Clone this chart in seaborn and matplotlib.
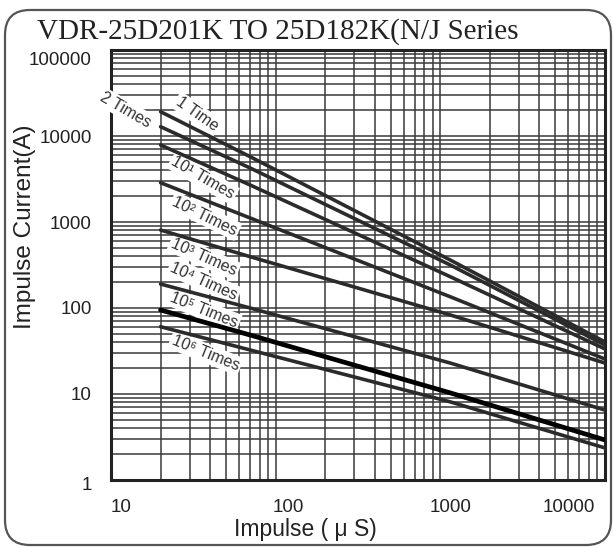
import numpy as np
import pandas as pd
import matplotlib
matplotlib.use("Agg")
import matplotlib.pyplot as plt
import matplotlib.ticker as mticker
from matplotlib.patches import FancyBboxPatch
from matplotlib.transforms import ScaledTranslation
import seaborn as sns

# impulse width (us) where the curves were read
impulse_us = [20, 70, 1150, 10000]

# impulse current (A) per repetition count
once = [19180, 5745, 361, 40.3]
twice = [12830, 4245, 316, 37.1]
times_1e1 = [7860, 2692, 231, 33.4]
times_1e2 = [2865, 1113, 135, 25.5]
times_1e3 = [807, 395, 83, 22.9]
times_1e4 = [190, 100, 22.9, 6.5]
times_1e5 = [94.8, 48.5, 10.3, 2.92]
times_1e6 = [60.6, 32.5, 8.1, 2.36]

series_names = ["1 Time", "2 Times", "10¹ Times", "10² Times",
                "10³ Times", "10⁴ Times", "10⁵ Times", "10⁶ Times"]
series_values = [once, twice, times_1e1, times_1e2,
                 times_1e3, times_1e4, times_1e5, times_1e6]

x_ticks = [10, 100, 1000, 10000]
y_ticks = [1, 10, 100, 1000, 10000, 100000]

rows = []
for name, vals in zip(series_names, series_values):
    for x, y in zip(impulse_us, vals):
        rows.append({"impulse": x, "current": y, "series": name})
df = pd.DataFrame(rows)

sns.set_style("white")
plt.rcParams['font.family'] = ['Liberation Sans', 'DejaVu Sans']

fig = plt.figure(figsize=(6.14, 5.49), dpi=100)
ax = fig.add_axes([0.1808, 0.1257, 0.8045, 0.7832])

for name in series_names:
    sub = df[df["series"] == name]
    thick = name == "10⁵ Times"
    sns.lineplot(data=sub, x="impulse", y="current", ax=ax,
                 color="black" if thick else "#2b2b2b",
                 lw=3.4 if thick else 2.6, zorder=4, legend=False)

ax.set_xscale("log")
ax.set_yscale("log")
ax.set_xlim(10, 10000)
ax.set_ylim(1, 100000)

ax.xaxis.set_major_locator(mticker.FixedLocator(x_ticks))
ax.yaxis.set_major_locator(mticker.FixedLocator(y_ticks))
ax.set_xticklabels([str(v) for v in x_ticks])
ax.set_yticklabels([str(v) for v in y_ticks])
ax.xaxis.set_minor_locator(mticker.LogLocator(base=10, subs=np.arange(2, 10)))
ax.yaxis.set_minor_locator(mticker.LogLocator(base=10, subs=np.arange(2, 10)))
ax.xaxis.set_minor_formatter(mticker.NullFormatter())
ax.yaxis.set_minor_formatter(mticker.NullFormatter())

ax.grid(True, which="both", color="#3a3a3a", lw=1.3, alpha=0.85)
ax.set_axisbelow(True)
ax.tick_params(which="both", length=0, labelsize=13.5, colors="#222222")
ax.tick_params(axis="x", pad=14)
ax.tick_params(axis="y", pad=14)
for s in ax.spines.values():
    s.set_color("#222222")
    s.set_linewidth(2.2)

# nudge tick labels like the original scan
x_shift = [10, 13, 10, -36]
for lab, dx in zip(ax.get_xticklabels(), x_shift):
    lab.set_transform(lab.get_transform() + ScaledTranslation(dx / 100, 0, fig.dpi_scale_trans))
y_shift = [-4, 0, 0, 0, 0, -8]
for lab, dy in zip(ax.get_yticklabels(), y_shift):
    lab.set_transform(lab.get_transform() + ScaledTranslation(0, dy / 100, fig.dpi_scale_trans))

ax.set_xlabel("Impulse ( μ S)", fontsize=16.5, color="#222222")
ax.set_ylabel("Impulse Current(A)", fontsize=17.5, color="#222222")
ax.xaxis.set_label_coords(0.393, -0.088)
ax.yaxis.set_label_coords(-0.152, 0.59)

# curve labels
label_spots = [(33.3, 18030, -35), (12.3, 20050, -30), (36.2, 3250, -30),
               (37.2, 1175, -26), (36.7, 392, -24), (36.7, 206, -24),
               (36.7, 94.8, -22), (37.5, 30, -22)]
for name, (lx, ly, rot) in zip(series_names, label_spots):
    ax.text(lx, ly, name, rotation=rot, ha="center", va="center",
            fontsize=11.5, color="#333333", zorder=3,
            family=['Liberation Sans', 'DejaVu Sans'],
            bbox=dict(facecolor="white", edgecolor="none", pad=1.5))

fig.text(0.06, 0.929, "VDR-25D201K TO 25D182K(N/J Series", fontsize=21,
         family="Liberation Serif", color="#222222", va="baseline", ha="left")

frame = FancyBboxPatch((0.05, 0.04), 6.06, 5.35,
                       boxstyle="round,pad=0,rounding_size=0.25",
                       transform=fig.dpi_scale_trans, fill=False,
                       edgecolor="#555555", lw=1.6)
fig.patches.append(frame)

fig.savefig("out.png", dpi=100)
